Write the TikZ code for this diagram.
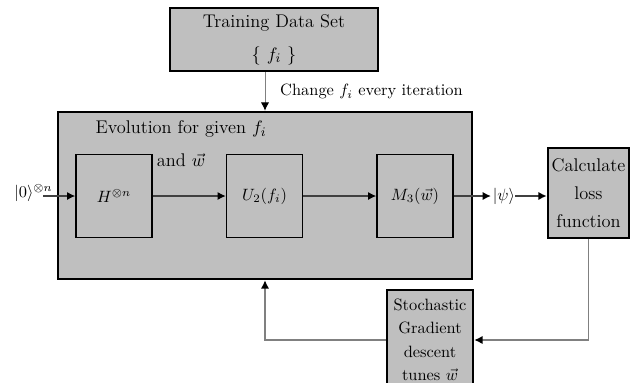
\documentclass[tikz,border=0pt]{standalone}
\usepackage{amsmath}
\usepackage{tikz}
\usetikzlibrary{arrows.meta}
\tikzset{
  >={Latex[length=5pt,width=5pt,color=black]},
}
\tikzstyle{bigbox}=[draw,line width=1.6pt,fill=gray!50,inner sep=0pt,align=center]
\tikzstyle{gate}=[draw,line width=0.9pt,fill=gray!50,inner sep=0pt,minimum width=76*0.61pt,minimum height=83*0.61pt]
\tikzstyle{flow}=[->,line width=0.9pt,black!75]
\tikzstyle{feedback}=[->,line width=0.8pt,gray]
\tikzstyle{bigfont}=[font=\fontsize{11.2}{20}\selectfont]

\begin{document}
\begin{tikzpicture}[x=0.61pt,y=-0.61pt]
  \useasboundingbox (0,0) rectangle (634,383);
  % outer blocks
  \node[bigbox,bigfont,minimum width=208*0.61pt,minimum height=63*0.61pt] (train) at (274,39.5) {Training Data Set\\\{ $f_i$ \}};
  \node[bigbox,minimum width=414*0.61pt,minimum height=167*0.61pt] (big) at (265,195.5) {};
  \node[bigfont,align=center,inner sep=0pt] (evo) at (181,143.5) {Evolution for given $f_i$\\and $\vec{w}$};
  \node[bigbox,font=\fontsize{11.2}{17}\selectfont,minimum width=81*0.61pt,minimum height=90*0.61pt] (calc) at (588.5,193) {Calculate\\loss\\function};
  \node[bigbox,font=\fontsize{10}{14.3}\selectfont,minimum width=86*0.61pt,minimum height=100*0.61pt] (stoch) at (430,340) {Stochastic\\Gradient\\descent\\tunes $\vec{w}$};
  % gates
  \node[gate] (H) at (114,196) {$H^{\otimes n}$};
  \node[gate] (U) at (264.5,196) {$U_2(f_i)$};
  \node[gate] (M) at (415,196) {$M_3(\vec{w})$};
  \node[inner sep=0pt,anchor=west] (ket0) at (14,193) {$|0\rangle^{\otimes n}$};
  \node[inner sep=0pt] (psi) at (504,196) {$|\psi\rangle$};
  % connectors
  \draw[->,line width=0.6pt,gray] (train.south -| big.north) -- (big.north)
    node[midway,anchor=west,inner sep=0pt,xshift=9pt,text=black] {Change $f_i$ every iteration};
  \draw[flow] ([xshift=-6pt]ket0.east |- H.west) -- (H.west);
  \draw[flow] (H.east) -- (U.west);
  \draw[flow] (U.east) -- (M.west);
  \draw[flow] (M.east) -- ([xshift=-1pt]psi.west);
  \draw[flow] (psi.east) -- (psi.east -| calc.west);
  \draw[feedback] (calc.south) |- (stoch.east);
  \draw[feedback] (stoch.west) -| (big.south);
\end{tikzpicture}
\end{document}
